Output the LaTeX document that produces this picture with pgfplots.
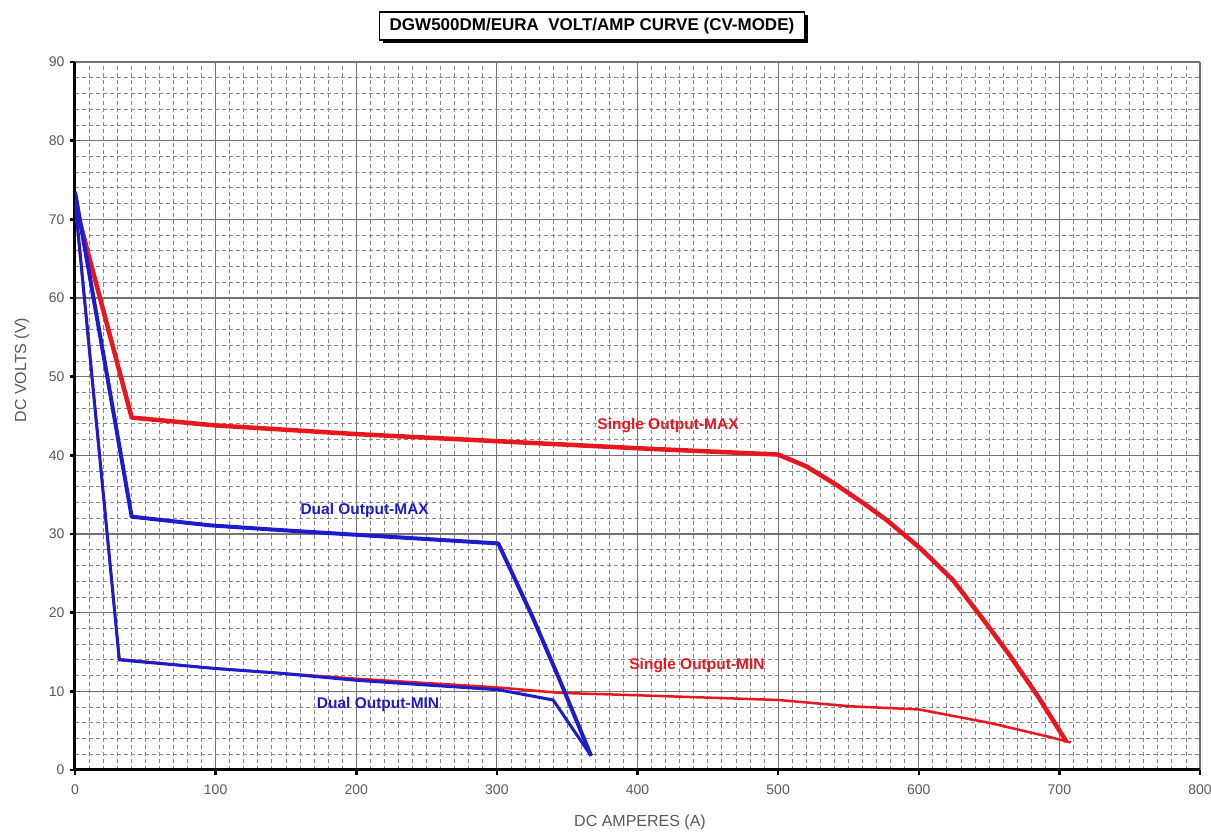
\documentclass[border=0pt]{standalone}
\usepackage{pgfplots}
\pgfplotsset{compat=1.18}
\usepackage{fontspec}
\setmainfont{Liberation Sans}
\usetikzlibrary{shadows}
\definecolor{cred}{RGB}{232,22,30}
\definecolor{cblue}{RGB}{28,28,205}
\definecolor{gridgray}{RGB}{115,115,115}
\begin{document}
\begin{tikzpicture}[x=1pt,y=1pt]
\useasboundingbox (0,0) rectangle (1211,832);
\begin{axis}[
  at={(75pt,62pt)}, anchor=south west,
  width=1125pt, height=708pt, scale only axis,
  xmin=0, xmax=800, ymin=0, ymax=90,
  xtick={0,100,...,800}, ytick={0,10,...,90},
  minor x tick num=9, minor y tick num=4,
  grid=both,
  major grid style={gridgray, line width=1.1pt},
  minor grid style={gridgray!85, line width=0.8pt, dash pattern=on 4pt off 3pt},
  axis lines*=left,
  axis line style={-, black, line width=3pt},
  major tick style={black, line width=2.5pt},
  minor tick length=0pt,
  major tick length=5pt,
  tick align=outside,
  /pgf/number format/assume math mode=true,
  ticklabel style={font=\fontsize{14}{16}\selectfont, text=black!65},
  xticklabel style={yshift=-6pt},
  yticklabel style={xshift=-2pt},
  clip=true,
]
\addplot[cred, line width=2.5pt] coordinates {
 (0,72) (31.5,14.1) (100,12.9) (200,11.6) (300,10.5) (345,9.8) (400,9.5) (500,8.9) (551,8.1) (600,7.7) (650,6.0) (693,4.2) (708,3.5)
};
\addplot[cred, line width=4.5pt, line join=round] coordinates {
 (0,72) (40.3,44.8) (100,43.8) (200,42.7) (300,41.8) (400,40.9) (500,40.1)
 (520,38.6) (541,36.3) (560,34.0) (577,31.8) (601,28.2) (624,24.2) (646,19.1) (665,14.5) (685,9.3) (705,3.6)
};
\addplot[cblue, line width=3pt] coordinates {
 (0,72.5) (31.5,14.0) (100,12.9) (146,12.3) (200,11.4) (301,10.2) (340,8.9) (367,1.8)
};
\addplot[cblue, line width=4pt, line join=round] coordinates {
 (0,73.5) (40.3,32.2) (96,31.1) (146,30.5) (200,29.9) (301,28.8) (325,19.6) (345,11.3) (367,1.8)
};
\node[text=cred, font=\fontsize{15.5}{17}\selectfont\bfseries] at (axis cs:421.7,43.8) {Single Output-MAX};
\node[text=cblue, font=\fontsize{15.5}{17}\selectfont\bfseries] at (axis cs:206,33) {Dual Output-MAX};
\node[text=cred, font=\fontsize{15.5}{17}\selectfont\bfseries] at (axis cs:442.3,13.3) {Single Output-MIN};
\node[text=cblue, font=\fontsize{15.5}{17}\selectfont\bfseries] at (axis cs:215.5,8.3) {Dual Output-MIN};
\end{axis}
\node[draw=black, line width=1.5pt, fill=white, minimum width=425pt, minimum height=28pt,
  inner sep=0pt, font=\fontsize{17}{19}\selectfont\bfseries,
  drop shadow={shadow xshift=3pt, shadow yshift=-3pt, opacity=1, fill=black}]
  at (592,806) {DGW500DM/EURA\ \ VOLT/AMP CURVE (CV-MODE)};
\node[font=\fontsize{16}{18}\selectfont, text=black!65] at (640,10) {DC AMPERES (A)};
\node[font=\fontsize{16}{18}\selectfont, text=black!65, rotate=90] at (22,462) {DC VOLTS (V)};
\end{tikzpicture}
\end{document}
